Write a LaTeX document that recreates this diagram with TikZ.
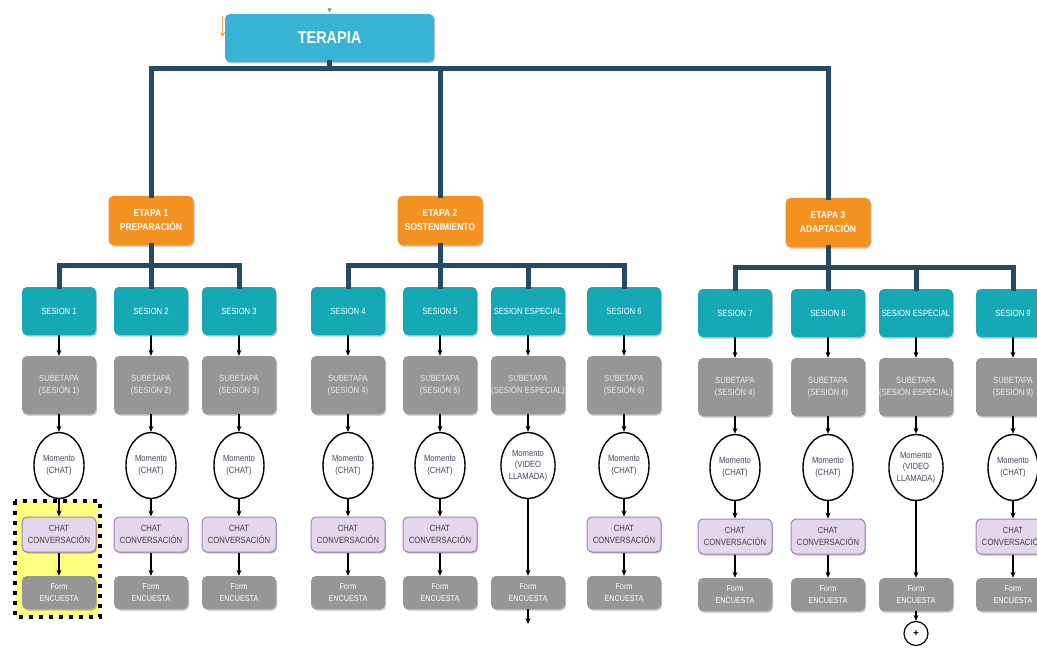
\documentclass[tikz,border=0pt]{standalone}
\usepackage{fontspec}
\setmainfont{Liberation Sans}
\newfontfamily\narrowfont[FakeStretch=0.85]{Liberation Sans}
\usetikzlibrary{shapes.geometric,arrows.meta,shadows}

\definecolor{terapcol}{HTML}{38B3D6}
\definecolor{sescol}{HTML}{14A9B5}
\definecolor{etapacol}{HTML}{F39220}
\definecolor{greycol}{HTML}{969696}
\definecolor{chatfill}{HTML}{E3D7EB}
\definecolor{chatline}{HTML}{A083B5}
\definecolor{navy}{HTML}{254A65}
\definecolor{momtext}{HTML}{4A4260}
\definecolor{hilite}{HTML}{FFFF80}

\begin{document}
\begin{tikzpicture}[x=1pt,y=-1pt,
  softshadow/.style={drop shadow={shadow xshift=1pt,shadow yshift=-1.5pt,opacity=0.25,fill=black}},
  boxbase/.style={rectangle,rounded corners=5pt,inner sep=0pt,align=center,softshadow},
  terbox/.style={boxbase,fill=terapcol,minimum width=209pt,minimum height=48pt,text=white,
    font=\narrowfont\bfseries\fontsize{17}{20}\selectfont},
  etapabox/.style={boxbase,fill=etapacol,minimum width=85pt,minimum height=49pt,text=white,
    font=\narrowfont\bfseries\fontsize{10}{14}\selectfont},
  sesbox/.style={boxbase,fill=sescol,minimum width=74pt,minimum height=48pt,text=white,
    font=\narrowfont\fontsize{9}{12}\selectfont},
  subbox/.style={boxbase,fill=greycol,minimum width=74pt,minimum height=58pt,text=white!92!black,
    font=\narrowfont\fontsize{9}{12}\selectfont},
  momell/.style={ellipse,draw=black,line width=1.4pt,fill=white,minimum width=50pt,minimum height=66pt,
    inner sep=0pt,align=center,text=momtext,font=\narrowfont\fontsize{9}{12}\selectfont},
  chatbox/.style={boxbase,fill=chatfill,draw=chatline,line width=1pt,minimum width=74pt,minimum height=35pt,
    text=black!75,font=\narrowfont\fontsize{9}{12}\selectfont},
  formbox/.style={boxbase,fill=greycol,minimum width=74pt,minimum height=33pt,text=white,
    font=\narrowfont\fontsize{8.5}{11.5}\selectfont},
  pluscirc/.style={circle,draw=black,line width=1.2pt,fill=white,minimum size=24pt,inner sep=0pt,
    font=\fontsize{10}{10}\selectfont\bfseries},
  bus/.style={draw=navy,line width=5pt,line join=miter,line cap=rect},
  flow/.style={draw=black,line width=1.1pt,-{Stealth[length=6pt,width=5pt]}},
]
\useasboundingbox (0,0) rectangle (1037,650);

% highlighted first chat/form pair
\draw[fill=hilite,draw=black,line width=4pt,dash pattern=on 4pt off 6pt] (15,501) rectangle (100,617);

% small marks near the root box
\draw[draw=etapacol!80,line width=1.4pt,-{Stealth[length=5pt,width=5pt]}] (222.5,16) -- (222.5,37);
\fill[gray] (327.5,8.5) -- (331.5,8.5) -- (329.5,12) -- cycle;

% root and stages
\node[terbox] (ter) at (329.5,38) {TERAPIA};
\node[etapabox] (e1) at (151,220.5) {ETAPA 1\\PREPARACIÓN};
\node[etapabox] (e2) at (440,220.5) {ETAPA 2\\SOSTENIMIENTO};
\node[etapabox] (e3) at (828,222.5) {ETAPA 3\\ADAPTACIÓN};

% session columns: index / x / vertical offset / title / sub-stage
\foreach \i/\x/\dy/\lab/\sub in {
  1/59/0/SESION 1/SESIÓN 1,
  2/151/0/SESION 2/SESIÓN 2,
  3/239/0/SESION 3/SESIÓN 3,
  4/348/0/SESION 4/SESIÓN 4,
  5/440/0/SESION 5/SESIÓN 5,
  6/528/0/SESION ESPECIAL/SESIÓN ESPECIAL,
  7/624/0/SESION 6/SESIÓN 6,
  8/735/2/SESION 7/SESIÓN 4,
  9/828/2/SESION 8/SESIÓN 8,
  10/916/2/SESION ESPECIAL/SESIÓN ESPECIAL,
  11/1013/2/SESION 9/SESIÓN 9}{
  \node[sesbox] (s\i) at (\x,311+\dy) {\lab};
  \node[subbox] (u\i) at (\x,385+\dy) {SUBETAPA\\(\sub)};
  \node[formbox] (f\i) at (\x,592.5+\dy) {Form\\ENCUESTA};
  \draw[flow] (s\i) -- (u\i);
}

% chat moments
\foreach \i/\x/\dy in {1/59/0,2/151/0,3/239/0,4/348/0,5/440/0,7/624/0,8/735/2,9/828/2,11/1013/2}{
  \node[momell] (m\i) at (\x,465.5+\dy) {Momento\\(CHAT)};
  \node[chatbox] (c\i) at (\x,534.5+\dy) {CHAT\\CONVERSACIÓN};
  \draw[flow] (u\i) -- (m\i);
  \draw[flow] (m\i) -- (c\i);
  \draw[flow] (c\i) -- (f\i);
}

% video-call moments
\foreach \i/\x/\dy in {6/528/0,10/916/2}{
  \node[momell,font=\narrowfont\fontsize{9}{11.5}\selectfont] (m\i) at (\x,465.5+\dy) {Momento\\(VIDEO\\LLAMADA)};
  \draw[flow] (u\i) -- (m\i);
  \draw[flow] (m\i) -- (f\i);
}

% continuation marks below the special sessions
\coordinate (cont6) at (528,624);
\draw[flow] (f6) -- (cont6);
\node[pluscirc] (plus10) at (916,633.5) {+};
\draw[flow] (f10) -- (plus10);

% hierarchy connectors
\coordinate (b0) at (0,69);
\coordinate (b1) at (0,265.5);
\coordinate (b3) at (0,267.5);
\draw[bus] (ter.south) -- (ter.south|-b0);
\draw[bus] (e1.north) -- (e1.north|-b0) -- (e3.north|-b0) -- (e3.north);
\draw[bus] (e2.north) -- (e2.north|-b0);

\draw[bus] (e1.south) -- (e1.south|-b1);
\draw[bus] (s1.north) -- (s1.north|-b1) -- (s3.north|-b1) -- (s3.north);
\draw[bus] (s2.north) -- (s2.north|-b1);

\draw[bus] (e2.south) -- (e2.south|-b1);
\draw[bus] (s4.north) -- (s4.north|-b1) -- (s7.north|-b1) -- (s7.north);
\draw[bus] (s5.north) -- (s5.north|-b1);
\draw[bus] (s6.north) -- (s6.north|-b1);

\draw[bus] (e3.south) -- (e3.south|-b3);
\draw[bus] (s8.north) -- (s8.north|-b3) -- (s11.north|-b3) -- (s11.north);
\draw[bus] (s9.north) -- (s9.north|-b3);
\draw[bus] (s10.north) -- (s10.north|-b3);
\end{tikzpicture}
\end{document}
